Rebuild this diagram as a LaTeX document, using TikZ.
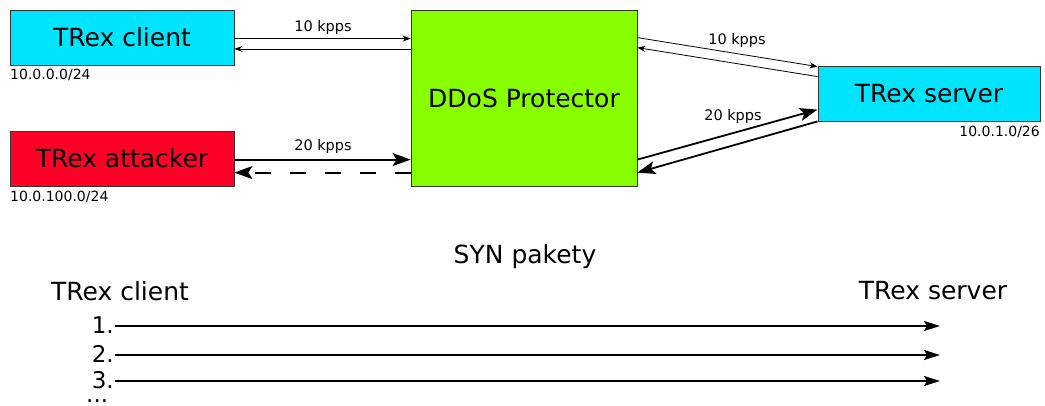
\documentclass[tikz,border=0pt]{standalone}
\usepackage{fontspec}
\setmainfont{DejaVu Sans}
\usetikzlibrary{arrows.meta,calc}
\definecolor{boxcyan}{HTML}{00E5FF}
\definecolor{boxred}{HTML}{FF0026}
\definecolor{boxgreen}{HTML}{88FF00}
\tikzset{
  box/.style={draw=black!80, line width=0.8pt, inner sep=0pt, font=\fontsize{25}{30}\selectfont},
  thinarr/.style={line width=0.8pt, -{Stealth[length=8pt,width=6pt]}},
  thickarr/.style={line width=1.8pt, -{Stealth[length=18pt,width=13pt,inset=4pt]}},
  synarr/.style={line width=1.8pt, -{Stealth[length=16pt,width=10pt,inset=3pt]}},
  rate/.style={font=\fontsize{14.5}{17}\selectfont, inner sep=0pt},
  ip/.style={font=\fontsize{14}{17}\selectfont, inner sep=0pt},
  bigtxt/.style={font=\fontsize{25}{30}\selectfont, inner sep=0pt},
  numtxt/.style={font=\fontsize{23}{28}\selectfont, inner sep=0pt},
}
\begin{document}
\begin{tikzpicture}[x=1pt,y=-1pt]
\useasboundingbox (0,0) rectangle (1045,405);
\fill[white] (0,0) rectangle (1045,405);
% boxes
\node[box, fill=boxcyan, minimum width=224pt, minimum height=55pt] (client) at (122,37.5) {TRex client};
\node[box, fill=boxred, minimum width=224pt, minimum height=55pt] (attacker) at (122,158.5) {TRex attacker};
\node[box, fill=boxgreen, minimum width=226pt, minimum height=176pt] (ddos) at (524,98) {DDoS Protector};
\node[box, fill=boxcyan, minimum width=222pt, minimum height=55pt] (server) at (929,93.5) {TRex server};
% ip labels
\node[ip, anchor=west] (ipc) at (10,75) {10.0.0.0/24};
\node[ip, anchor=west] (ipa) at (10,197) {10.0.100.0/24};
\node[ip, anchor=east] (ips) at (1040,132) {10.0.1.0/26};
% left connectors
\draw[thinarr] ($(client.north east)+(0,29)$) -- ($(ddos.north west)+(0,29)$);
\draw[thinarr] ($(ddos.north west)+(0,39.3)$) -- ($(client.north east)+(0,39.3)$);
\node[rate] (r1) at (323,27) {10 kpps};
\draw[thickarr] ($(attacker.north east)+(0,29)$) -- ($(ddos.north west)+(0,150)$);
\draw[thickarr, dash pattern=on 16pt off 19pt] ($(ddos.north west)+(0,163)$) -- ($(attacker.north east)+(0,42)$);
\node[rate] (r2) at (323,146) {20 kpps};
% right connectors
\draw[thinarr] ($(ddos.north east)+(0,28)$) -- ($(server.north west)+(0,1)$);
\draw[thinarr] ($(server.north west)+(0,11)$) -- ($(ddos.north east)+(0,38)$);
\node[rate] (r3) at (737,40) {10 kpps};
\draw[thickarr] ($(ddos.north east)+(0,150)$) -- ($(server.north west)+(0,44)$);
\draw[thickarr] ($(server.south west)+(0,0)$) -- ($(ddos.north east)+(0,163)$);
\node[rate] (r4) at (733,116) {20 kpps};
% bottom
\node[bigtxt] (syn) at (525,257) {SYN pakety};
\node[bigtxt] (bc) at (120,291) {TRex client};
\node[bigtxt] (bs) at (933,291) {TRex server};
\node[numtxt, anchor=base east] (n1) at (114,333) {1.};
\node[numtxt, anchor=base east] (n2) at (114,362) {2.};
\node[numtxt, anchor=base east] (n3) at (114,388) {3.};
\node[numtxt, anchor=base west, text depth=0pt, text height=4pt] (n4) at (86,402) {...};
\coordinate (e1) at (940,326);
\coordinate (e2) at (940,355);
\coordinate (e3) at (940,381);
\draw[synarr] (n1.east |- e1) ++(1,0) -- (e1);
\draw[synarr] (n2.east |- e2) ++(1,0) -- (e2);
\draw[synarr] (n3.east |- e3) ++(1,0) -- (e3);
\end{tikzpicture}
\end{document}
